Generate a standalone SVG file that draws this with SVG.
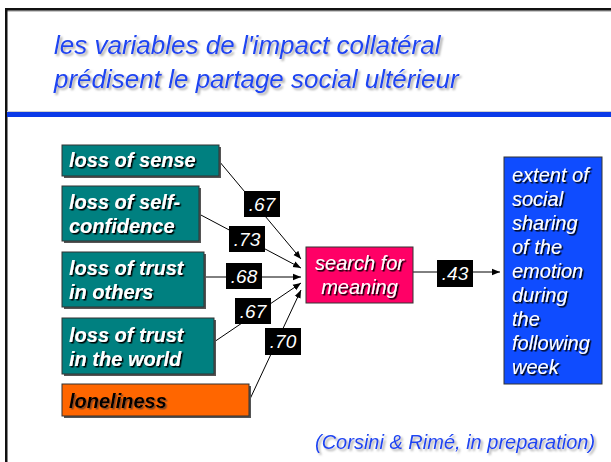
<svg xmlns="http://www.w3.org/2000/svg" width="611" height="462" viewBox="0 0 611 462">
<defs>
<style>
.t{font-family:"Liberation Sans",Arial,sans-serif;font-style:italic}
.title{font-size:26px;fill:#1a44f2;filter:url(#lsh)}
.nb{font-size:20px;font-weight:bold;fill:#fff;filter:url(#dsh)}
.nl{font-size:20px;font-weight:bold;fill:#000;filter:url(#osh)}
.nr{font-size:20px;fill:#fff;filter:url(#dsh)}
.box{stroke:#333;stroke-width:1}
.sh{fill:#555}
.lab{fill:#000}
.lt{font-size:19px;fill:#fff}
.edge{stroke:#000;stroke-width:1;fill:none;marker-end:url(#ah)}
</style>
<filter id="lsh" x="-5%" y="-30%" width="115%" height="170%">
<feDropShadow dx="2" dy="2" stdDeviation="0.8" flood-color="#a0a0a0" flood-opacity="0.9"/>
</filter>
<filter id="dsh" x="-5%" y="-30%" width="115%" height="170%">
<feDropShadow dx="1.5" dy="1.5" stdDeviation="0.3" flood-color="#000" flood-opacity="1"/>
</filter>
<filter id="osh" x="-5%" y="-30%" width="115%" height="170%">
<feDropShadow dx="1.5" dy="1.5" stdDeviation="0.3" flood-color="#8a4a20" flood-opacity="1"/>
</filter>
<marker id="ah" viewBox="0 0 10 10" refX="10" refY="5" markerWidth="8" markerHeight="8" markerUnits="userSpaceOnUse" orient="auto">
<path d="M0,1 L10,5 L0,9 z" fill="#000"/>
</marker>
</defs>
<rect width="611" height="462" fill="#fff"/>
<g id="frame">
<rect x="6" y="10" width="605" height="2" fill="#c8c8c8"/>
<rect x="5" y="8" width="606" height="2.5" fill="#111"/>
<rect x="5" y="8" width="2.5" height="454" fill="#111"/>
<rect x="7" y="111" width="604" height="1.5" fill="#d0d0d0"/>
<rect x="7" y="112" width="604" height="5" fill="#0a3ae8"/>
</g>
<g id="title">
<text class="t title" x="54" y="54">les variables de l'impact collatéral</text>
<text class="t title" x="54" y="88">prédisent le partage social ultérieur</text>
</g>
<g id="connectors">
<path class="edge" d="M219,161 L301,259"/>
<path class="edge" d="M199,214 L301,268"/>
<path class="edge" d="M204,277 L301,277"/>
<path class="edge" d="M214,342 L301,283"/>
<path class="edge" d="M250,399 L301,290"/>
<path class="edge" d="M413,272 L500,272"/>
</g>
<g id="weights">
<rect class="lab" x="244" y="191" width="36" height="26"/>
<text class="t lt" x="262" y="211" text-anchor="middle">.67</text>
<rect class="lab" x="229" y="226" width="36" height="26"/>
<text class="t lt" x="247" y="246" text-anchor="middle">.73</text>
<rect class="lab" x="226" y="263" width="36" height="26"/>
<text class="t lt" x="244" y="283" text-anchor="middle">.68</text>
<rect class="lab" x="235" y="298" width="36" height="26"/>
<text class="t lt" x="253" y="318" text-anchor="middle">.67</text>
<rect class="lab" x="265" y="328" width="36" height="27"/>
<text class="t lt" x="283" y="348" text-anchor="middle">.70</text>
<rect class="lab" x="437" y="260" width="36" height="27"/>
<text class="t lt" x="455" y="280" text-anchor="middle">.43</text>
</g>
<g id="n-sense">
<rect class="sh" x="64" y="147" width="157" height="31"/>
<rect class="box" x="62" y="145" width="157" height="31" fill="#008080"/>
<text class="t nb" x="69" y="167">loss of sense</text>
</g>
<g id="n-self">
<rect class="sh" x="64" y="188" width="137" height="55"/>
<rect class="box" x="62" y="186" width="137" height="55" fill="#008080"/>
<text class="t nb" x="69" y="209">loss of self-</text>
<text class="t nb" x="69" y="233">confidence</text>
</g>
<g id="n-others">
<rect class="sh" x="64" y="254" width="142" height="55"/>
<rect class="box" x="62" y="252" width="142" height="55" fill="#008080"/>
<text class="t nb" x="69" y="275">loss of trust</text>
<text class="t nb" x="69" y="299">in others</text>
</g>
<g id="n-world">
<rect class="sh" x="64" y="320" width="152" height="56"/>
<rect class="box" x="62" y="318" width="152" height="56" fill="#008080"/>
<text class="t nb" x="69" y="342">loss of trust</text>
<text class="t nb" x="69" y="366">in the world</text>
</g>
<g id="n-lonely">
<rect class="sh" x="64" y="386" width="187" height="32"/>
<rect class="box" x="62" y="384" width="187" height="32" fill="#ff6600"/>
<text class="t nl" x="69" y="408">loneliness</text>
</g>
<g id="n-meaning">
<rect class="box" x="306" y="247" width="107" height="56" fill="#ff0066" stroke="#666"/>
<text class="t nr" x="359.5" y="270" text-anchor="middle">search for</text>
<text class="t nr" x="359.5" y="294" text-anchor="middle">meaning</text>
</g>
<g id="n-sharing">
<rect class="box" x="504" y="157" width="98" height="227" fill="#0f4cff"/>
<g class="t nr">
<text x="512" y="182">extent of</text>
<text x="512" y="206">social</text>
<text x="512" y="230">sharing</text>
<text x="512" y="254">of the</text>
<text x="512" y="278">emotion</text>
<text x="512" y="302">during</text>
<text x="512" y="326">the</text>
<text x="512" y="350">following</text>
<text x="512" y="374">week</text>
</g>
</g>
<g id="citation">
<text class="t title" x="315" y="449" font-size="20" style="font-size:20px">(Corsini &amp; Rimé, in preparation)</text>
</g>
</svg>
